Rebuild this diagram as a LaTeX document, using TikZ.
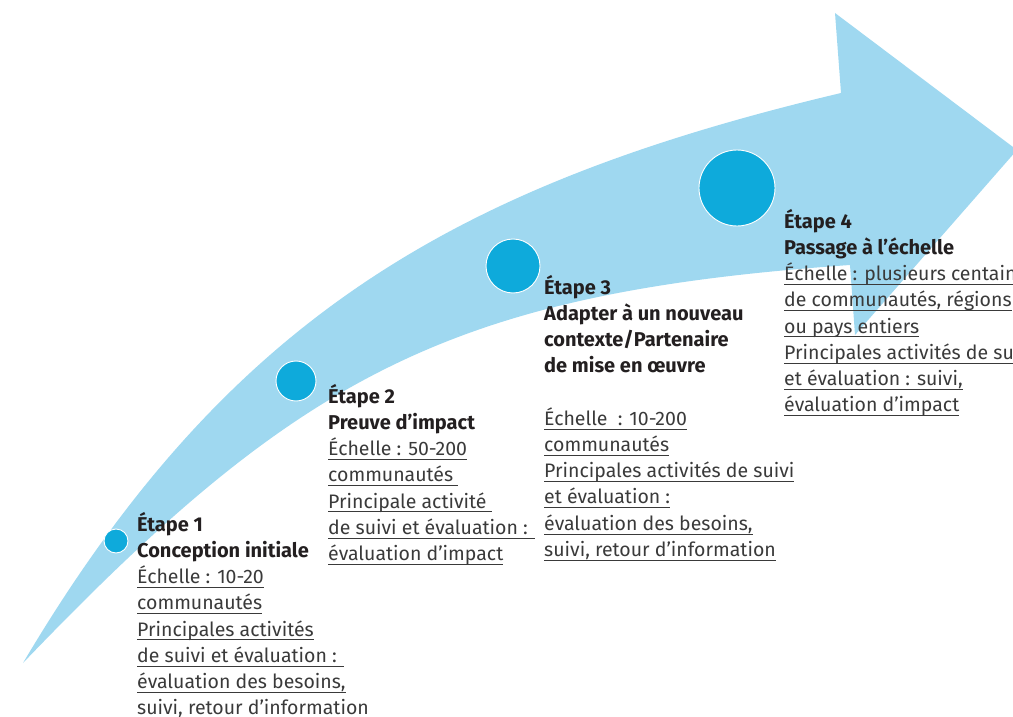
\documentclass[tikz,border=0pt]{standalone}
\usepackage{fontspec}
\setmainfont{Fira Sans}
\definecolor{arrowblue}{HTML}{9FD8F0}
\definecolor{dotblue}{HTML}{0EAADB}
\definecolor{headcol}{HTML}{231F20}
\definecolor{bodycol}{HTML}{3A3A3A}
\definecolor{linecol}{HTML}{3A3A3A}
\newcommand\myul[1]{\setbox0=\hbox{#1}\rlap{\color{linecol}\rule[-4.3pt]{\wd0}{0.85pt}}\box0}
\newcommand\stagetext[1]{\vtop{\baselineskip=26.25pt\lineskiplimit=-100pt\lineskip=0pt #1}}
\newcommand\hd[1]{\hbox{\fontsize{20}{26.25}\selectfont\bfseries\color{headcol}#1}}
\newcommand\bl[1]{\hbox{\color{bodycol}\myul{#1}}}
\newcommand\bn[1]{\hbox{\color{bodycol}#1}}
\tikzset{
  dot/.style={circle, fill=dotblue, draw=white, line width=0.9pt, inner sep=0pt},
  stagebox/.style={anchor=base west, inner sep=0pt, font=\fontsize{19.5}{26.25}\selectfont}
}
\begin{document}
\begin{tikzpicture}[x=1pt,y=-1pt]
\useasboundingbox (0,0) rectangle (1013,717);
\clip (0,0) rectangle (1013,717);
% arrow
\fill[arrowblue] (23,663) .. controls (227,319) and (453,185) .. (841,93)
  -- (835,13) -- (1017,150) -- (855,335) -- (850,265)
  .. controls (450,293) and (299,375) .. (23,663) -- cycle;
% dots
\node[dot, minimum size=24pt] (c1) at (116,541) {};
\node[dot, minimum size=40pt] (c2) at (296,381) {};
\node[dot, minimum size=54pt] (c3) at (513,266) {};
\node[dot, minimum size=76pt] (c4) at (737,188) {};
% texts
\node[stagebox] (t1) at (137,531) {\stagetext{%
  \hd{Étape 1}
  \hd{Conception initiale}
  \bl{Échelle : 10-20}
  \bl{communautés}
  \bl{Principales activités}
  \bl{de suivi et évaluation : }
  \bl{évaluation des besoins,}
  \bn{suivi, retour d’information}}};
\node[stagebox] (t2) at (328,403) {\stagetext{%
  \hd{Étape 2}
  \hd{Preuve d’impact}
  \bl{Échelle : 50-200}
  \bl{communautés }
  \bl{Principale activité }
  \bl{de suivi et évaluation : }
  \bl{évaluation d’impact}}};
\node[stagebox] (t3) at (544,294) {\stagetext{%
  \hd{Étape 3}
  \hd{Adapter à un nouveau}
  \hd{contexte/Partenaire}
  \hd{de mise en œuvre}
  \hbox{}
  \bl{Échelle\ \ : 10-200}
  \bl{communautés}
  \bl{Principales activités de suivi}
  \bl{et évaluation :}
  \bl{évaluation des besoins,}
  \bl{suivi, retour d’information}}};
\node[stagebox] (t4) at (784,228) {\stagetext{%
  \hd{Étape 4}
  \hd{Passage à l’échelle}
  \bl{Échelle : plusieurs centaines}
  \bl{de communautés, régions}
  \bl{ou pays entiers}
  \bl{Principales activités de suivi}
  \bl{et évaluation : suivi,}
  \bl{évaluation d’impact}}};
\end{tikzpicture}
\end{document}
